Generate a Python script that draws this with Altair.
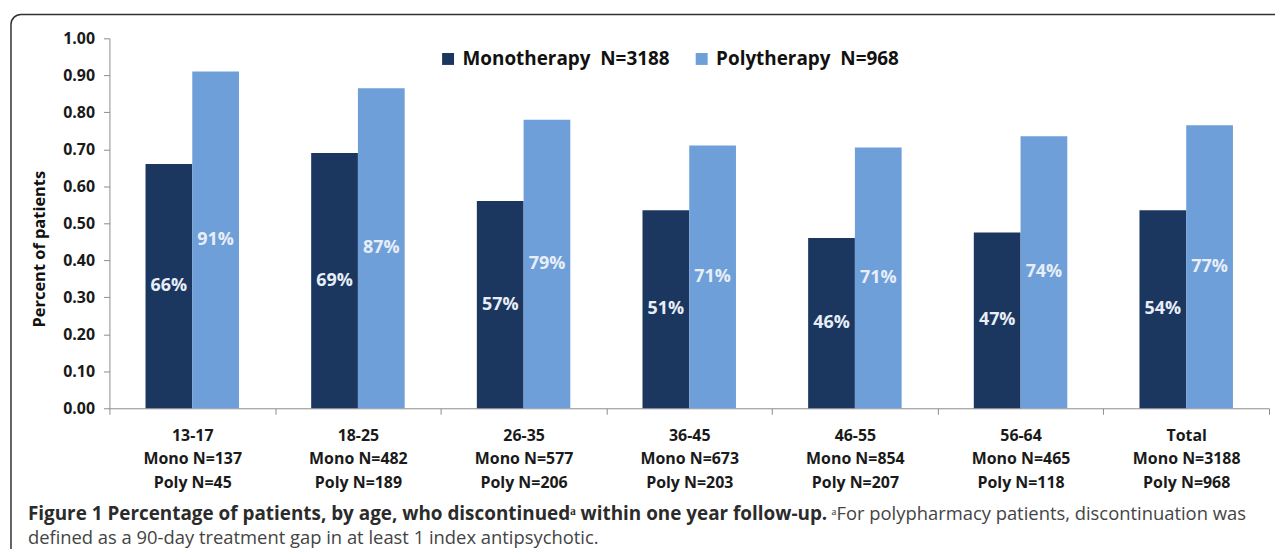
import altair as alt
import pandas as pd

# ---- data ----
age_groups = ["13-17", "18-25", "26-35", "36-45", "46-55", "56-64", "Total"]
mono_n = [137, 482, 577, 673, 854, 465, 3188]
poly_n = [45, 189, 206, 203, 207, 118, 968]
mono_values = [0.66, 0.69, 0.56, 0.535, 0.46, 0.475, 0.535]
poly_values = [0.91, 0.865, 0.78, 0.71, 0.705, 0.735, 0.765]
mono_labels = ["66%", "69%", "57%", "51%", "46%", "47%", "54%"]
poly_labels = ["91%", "87%", "79%", "71%", "71%", "74%", "77%"]
series_names = ["Monotherapy\u00a0\u00a0N=3188", "Polytherapy\u00a0\u00a0N=968"]
y_ticks = [0.0, 0.1, 0.2, 0.3, 0.4, 0.5, 0.6, 0.7, 0.8, 0.9, 1.0]

caption_bold = "Figure 1 Percentage of patients, by age, who discontinued\u1d43 within one year follow-up."
caption_rest = "\u1d43For polypharmacy patients, discontinuation was"
caption_line2 = "defined as a 90-day treatment gap in at least 1 index antipsychotic."

MONO_COLOR = "#1b365f"
POLY_COLOR = "#6e9fd9"
FONT = "Open Sans"

cat_labels = [f"{a}|Mono N={m}|Poly N={p}" for a, m, p in zip(age_groups, mono_n, poly_n)]

rows = []
for i, c in enumerate(cat_labels):
    rows.append({"cat": c, "series": series_names[0], "value": mono_values[i], "label": mono_labels[i]})
    rows.append({"cat": c, "series": series_names[1], "value": poly_values[i], "label": poly_labels[i]})
df = pd.DataFrame(rows)

W, H = 1166, 372

x_axis = alt.Axis(
    title=None,
    labelAngle=0,
    labelExpr="split(datum.label, '|')",
    tickBand="extent",
    labelFont=FONT,
    labelFontSize=16,
    labelFontWeight="bold",
    labelColor="#1a1a1a",
    labelLineHeight=24,
    labelPadding=13,
    tickSize=6,
    tickColor="#8c8c8c",
    domainColor="#8c8c8c",
    grid=False,
)
y_axis = alt.Axis(
    title=None,
    values=y_ticks,
    format=".2f",
    labelOverlap=False,
    labelFlush=False,
    labelFont=FONT,
    labelFontSize=16,
    labelFontWeight="bold",
    labelColor="#1a1a1a",
    labelPadding=9,
    tickSize=6,
    tickColor="#8c8c8c",
    domainColor="#8c8c8c",
    grid=False,
)
x_scale = alt.Scale(paddingInner=0, paddingOuter=0)
y_scale = alt.Scale(domain=[0, 1], nice=False, zero=True)
xoff_scale = alt.Scale(paddingInner=0, paddingOuter=0.772)

base = alt.Chart(df)

bars = base.mark_bar().encode(
    x=alt.X("cat:N", sort=cat_labels, scale=x_scale, axis=x_axis),
    xOffset=alt.XOffset("series:N", sort=series_names, scale=xoff_scale),
    y=alt.Y("value:Q", scale=y_scale, axis=y_axis),
    color=alt.Color(
        "series:N",
        sort=series_names,
        scale=alt.Scale(domain=series_names, range=[MONO_COLOR, POLY_COLOR]),
        legend=alt.Legend(
            title=None,
            orient="none",
            direction="horizontal",
            legendX=331,
            legendY=11,
            symbolType="square",
            symbolSize=144,
            symbolStrokeWidth=0,
            labelFont=FONT,
            labelFontSize=19,
            labelFontWeight="bold",
            labelColor="#111111",
            labelLimit=0,
            labelOffset=5,
            columnPadding=22,
        ),
    ),
)

labels = base.transform_calculate(mid="datum.value / 2").mark_text(
    font=FONT, fontSize=18, fontWeight="bold", color="#e8eef7", baseline="middle"
).encode(
    x=alt.X("cat:N", sort=cat_labels, scale=x_scale, axis=x_axis),
    xOffset=alt.XOffset("series:N", sort=series_names, scale=xoff_scale),
    y=alt.Y("mid:Q", scale=y_scale, axis=y_axis),
    text="label:N",
)

one = pd.DataFrame({"k": [0]})

frame = alt.Chart(one).mark_rect(
    fill="white", fillOpacity=0, stroke="#333333", strokeWidth=1.5, cornerRadius=10
).encode(
    x=alt.value(-99), x2=alt.value(1400), y=alt.value(-24), y2=alt.value(800)
)

ytitle = alt.Chart(pd.DataFrame({"t": ["Percent of patients"]})).mark_text(
    font=FONT, fontSize=16.5, fontWeight="bold", color="#111111", angle=270,
    align="center", baseline="middle"
).encode(x=alt.value(-70), y=alt.value(212), text="t:N")

cap1 = alt.Chart(pd.DataFrame({"t": [caption_bold]})).mark_text(
    font=FONT, fontSize=19, fontWeight="bold", color="#2b2b2b", align="left", baseline="middle"
).encode(x=alt.value(-82), y=alt.value(478), text="t:N")

cap1b = alt.Chart(pd.DataFrame({"t": [caption_rest]})).mark_text(
    font=FONT, fontSize=18.5, color="#444444", align="left", baseline="middle"
).encode(x=alt.value(726), y=alt.value(478), text="t:N")

cap2 = alt.Chart(pd.DataFrame({"t": [caption_line2]})).mark_text(
    font=FONT, fontSize=18.5, color="#444444", align="left", baseline="middle"
).encode(x=alt.value(-82), y=alt.value(502), text="t:N")

chart = alt.layer(frame, bars, labels, ytitle, cap1, cap1b, cap2).properties(
    width=W,
    height=H,
    autosize=alt.AutoSizeParams(type="none"),
    padding={"left": 102, "top": 29, "right": 6, "bottom": 140},
).configure_view(strokeWidth=0)

chart.save("out.html", embed_options={"renderer": "svg", "actions": False})
